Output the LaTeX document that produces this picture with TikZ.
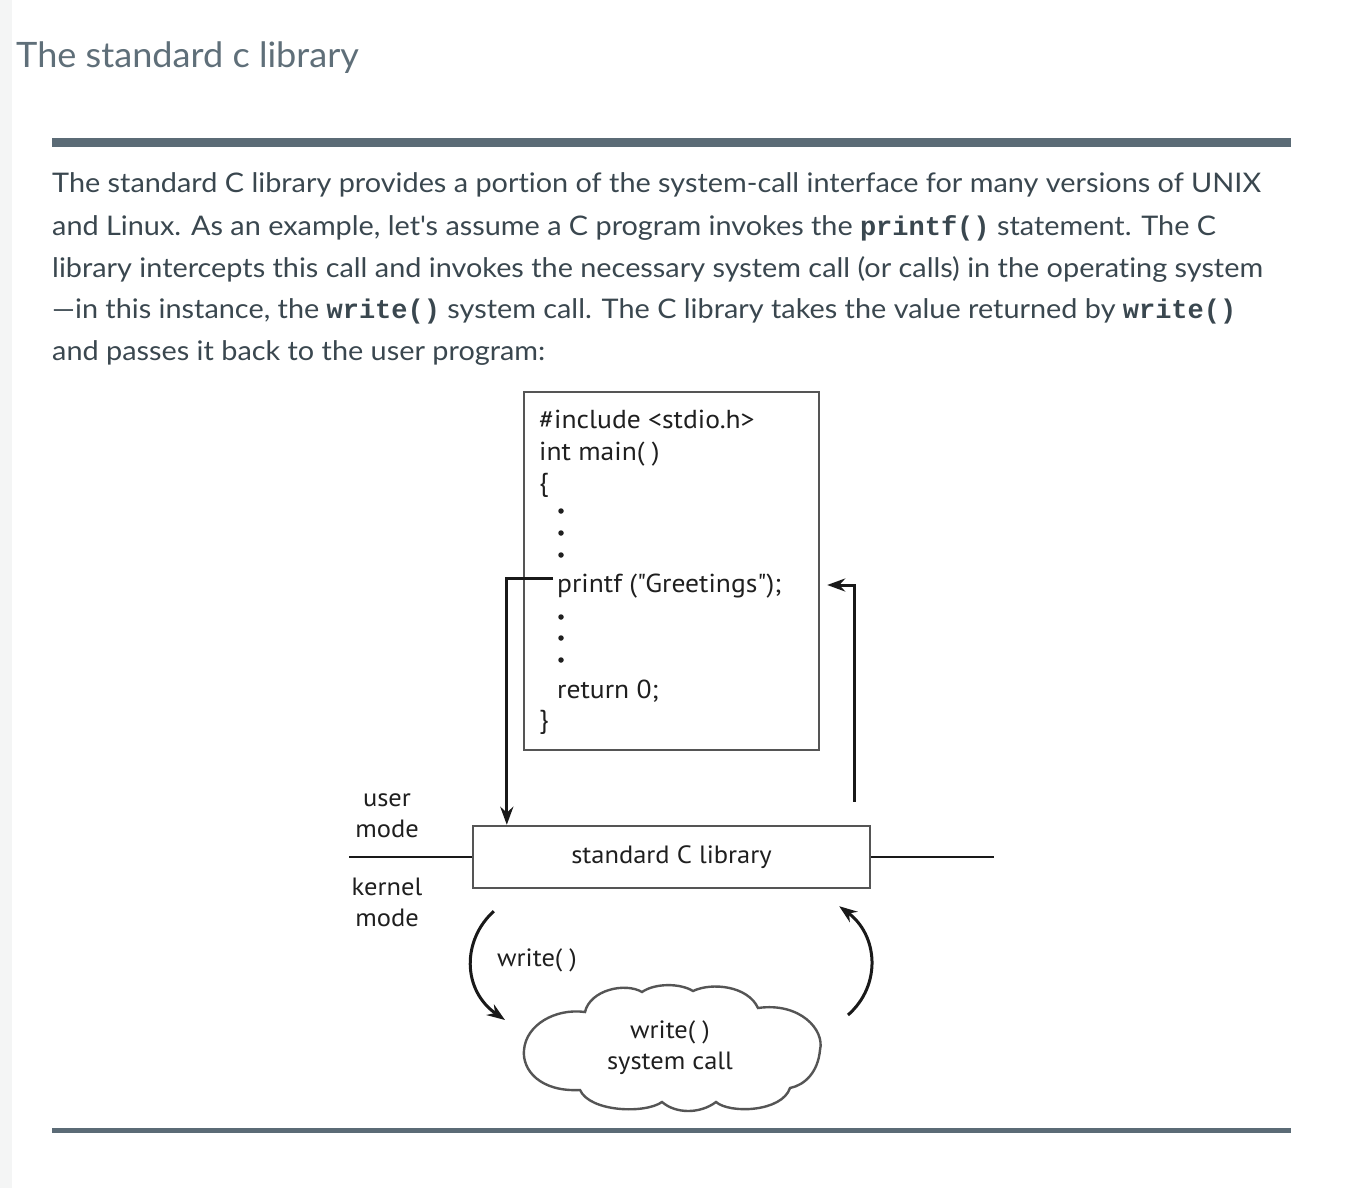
\documentclass[tikz,border=0pt]{standalone}
\usepackage{fontspec}
\setmainfont{Lato}[FakeStretch=1.068,Ligatures=NoCommon]
\setmonofont{Liberation Mono}
\newfontfamily\titlefont{Lato}[FakeStretch=1.032,Ligatures=NoCommon]
\newfontfamily\figfont{PT Sans}[FakeStretch=1.06]
\usetikzlibrary{arrows.meta,positioning}

\definecolor{titlegray}{HTML}{5F6F79}
\definecolor{bodytext}{HTML}{3A474F}
\definecolor{rulegray}{HTML}{5B6B76}
\definecolor{boxline}{HTML}{555555}
\definecolor{stripgray}{HTML}{F4F5F5}

\newcommand{\cfun}[1]{{\ttfamily\bfseries #1}}

\tikzset{
  bodyline/.style={anchor=base west,inner sep=0pt,text=bodytext,
    font=\fontsize{27}{27}\selectfont},
  codeline/.style={anchor=base west,inner sep=0pt,text=black!88,
    font=\figfont\fontsize{26}{26}\selectfont},
  figlabel/.style={inner sep=0pt,align=center,text=black!88,
    font=\figfont\fontsize{25}{31}\selectfont},
  codedot/.style={fill=black!88,draw=none,circle,inner sep=0pt,minimum size=5.5pt},
  flow/.style={draw=black!90,line width=3pt,-{Stealth[length=18pt,width=13pt]}},
}

\begin{document}
\begin{tikzpicture}[x=1pt,y=-1pt]
  \useasboundingbox (0,0) rectangle (1350,1188);
  \fill[white] (0,0) rectangle (1350,1188);
  \fill[stripgray] (0,0) rectangle (12,1188);

  % heading and rules
  \node[anchor=base west,inner sep=0pt,text=titlegray,
    font=\titlefont\fontsize{35}{35}\selectfont] (title) at (16,68) {The standard c library};
  \fill[rulegray] (52,138) rectangle (1291,147);
  \fill[rulegray] (52,1128) rectangle (1291,1133);

  % paragraph
  \node[bodyline] (par1) at (52,193) {The standard C library provides a portion of the system-call interface for many versions of UNIX};
  \node[bodyline] (par2) at (52,235) {and Linux. As an example, let\textquotesingle s assume a C program invokes the \cfun{printf()} statement. The C};
  \node[bodyline] (par3) at (52,277) {library intercepts this call and invokes the necessary system call (or calls) in the operating system};
  \node[bodyline] (par4) at (52,318) {\textemdash in this instance, the \cfun{write()} system call. The C library takes the value returned by \cfun{write()}};
  \node[bodyline] (par5) at (52,360) {and passes it back to the user program:};

  % user program
  \node[draw=boxline,line width=2.4pt,minimum width=295pt,minimum height=358pt,
    inner sep=0pt] (codebox) at (671.5,571) {};
  \node[codeline] (include) at (539,428) {\#include <stdio.h>};
  \node[codeline] (mainfn) at (539,460) {int main( )};
  \node[codeline] (lbrace) at (539,491) {\{};
  \foreach \y in {511,533,555,617,638,660}
    \node[codedot] at (561,\y) {};
  \node[codeline] (printf) at (557,592) {printf ("Greetings");};
  \node[codeline] (return) at (557,698) {return 0;};
  \node[codeline] (rbrace) at (539,728) {\}};

  % library and mode line
  \node[draw=boxline,line width=2.4pt,minimum width=397pt,minimum height=62pt,
    inner sep=0pt,figlabel] (lib) at (671.5,857) {standard C library};
  \draw[black!90,line width=2.6pt] (lib.west) -- ++(-123,0);
  \draw[black!90,line width=2.6pt] (lib.east) -- ++(123,0);
  \node[figlabel] (usermode) at (387,816) {user\\mode};
  \node[figlabel] (kernelmode) at (387,902) {kernel\\mode};

  % calls
  \draw[flow] ([xshift=-4pt,yshift=7pt]printf.west) -| ([xshift=35pt]lib.north west);
  \draw[flow] ([xshift=-17pt,yshift=23pt]lib.north east) |- ([xshift=7pt,yshift=7pt]codebox.east |- printf.base);

  % kernel side
  \node[figlabel] (syscall) at (670,1048) {write( )\\system call};
  \draw[boxline,line width=2.4pt]
    (585,1012) .. controls (590,990) and (625,982) .. (642,992)
    .. controls (655,983) and (680,983) .. (693,991)
    .. controls (712,982) and (748,986) .. (758,1008)
    .. controls (800,1002) and (825,1030) .. (820,1050)
    .. controls (818,1072) and (805,1085) .. (790,1088)
    .. controls (782,1112) and (730,1114) .. (716,1102)
    .. controls (700,1114) and (676,1114) .. (662,1102)
    .. controls (645,1114) and (590,1112) .. (580,1090)
    .. controls (540,1092) and (522,1070) .. (524,1050)
    .. controls (526,1025) and (555,1008) .. (585,1012) -- cycle;
  \node[figlabel,anchor=west] (writelbl) at (497,960) {write( )};
  \coordinate (downstart) at ([xshift=22pt,yshift=-22pt]lib.south west);
  \coordinate (downend) at (505,1020);
  \coordinate (upstart) at (848,1015);
  \coordinate (upend) at ([xshift=-32pt,yshift=-17pt]lib.south east);
  \draw[flow] (downstart) .. controls (462,940) and (462,990) .. (downend);
  \draw[flow] (upstart) .. controls (882,985) and (878,935) .. (upend);
\end{tikzpicture}
\end{document}
